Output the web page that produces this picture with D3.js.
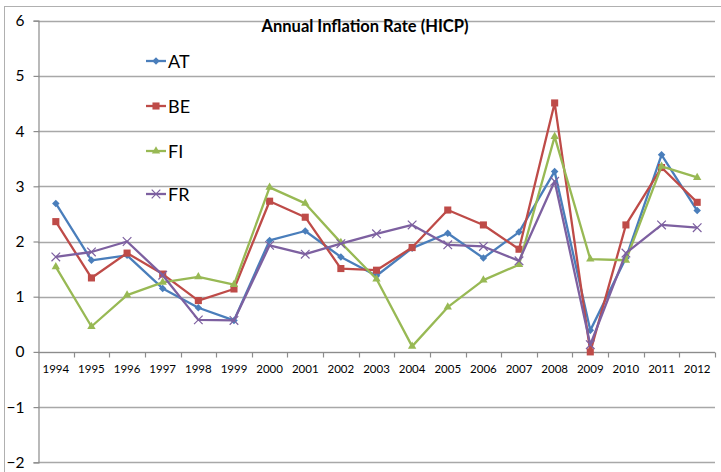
<!DOCTYPE html>
<html>
<head>
<meta charset="utf-8">
<script src="https://cdn.jsdelivr.net/npm/d3@7"></script>
<style>
  html, body { margin: 0; padding: 0; background: #fff; }
  svg { display: block; font-family: Lato, "Open Sans", sans-serif; }
</style>
</head>
<body>
<div id="chart"></div>
<script>
const WIDTH = 721;
const HEIGHT = 472;

const years = ['1994', '1995', '1996', '1997', '1998', '1999', '2000', '2001', '2002', '2003',
  '2004', '2005', '2006', '2007', '2008', '2009', '2010', '2011', '2012'];

const at = [2.69, 1.66, 1.75, 1.15, 0.80, 0.57, 2.02, 2.19, 1.72, 1.38, 1.88, 2.15, 1.70, 2.17, 3.27, 0.39, 1.70, 3.57, 2.56];
const be = [2.36, 1.34, 1.79, 1.41, 0.93, 1.14, 2.73, 2.44, 1.51, 1.48, 1.89, 2.57, 2.30, 1.86, 4.51, 0.00, 2.30, 3.34, 2.71];
const fi = [1.54, 0.46, 1.03, 1.26, 1.36, 1.22, 2.98, 2.69, 1.98, 1.32, 0.10, 0.81, 1.30, 1.58, 3.90, 1.68, 1.66, 3.36, 3.16];
const fr = [1.72, 1.81, 2.00, 1.39, 0.58, 0.57, 1.93, 1.77, 1.96, 2.14, 2.30, 1.94, 1.91, 1.65, 3.09, 0.13, 1.79, 2.30, 2.25];

const yTicks = [-2, -1, 0, 1, 2, 3, 4, 5, 6];

const series = [
  { name: 'AT', values: at, color: '#4a7ebb', symbol: 'diamond' },
  { name: 'BE', values: be, color: '#be4b48', symbol: 'square' },
  { name: 'FI', values: fi, color: '#98b954', symbol: 'triangle' },
  { name: 'FR', values: fr, color: '#7d60a0', symbol: 'cross' }
];

const svg = d3.select('#chart').append('svg')
  .attr('width', WIDTH)
  .attr('height', HEIGHT);

// outer chart frame
svg.append('rect')
  .attr('x', 4.5).attr('y', 6.5)
  .attr('width', WIDTH + 10).attr('height', HEIGHT + 10)
  .attr('fill', 'none')
  .attr('stroke', '#b0b0b0')
  .attr('stroke-width', 1);

const plot = { left: 38, right: 715, top: 20.7, bottom: 462.3 };

const x = d3.scaleBand()
  .domain(years)
  .range([plot.left, plot.right]);

const y = d3.scaleLinear()
  .domain([-2, 6])
  .range([plot.bottom, plot.top]);

// gridlines
svg.append('g')
  .selectAll('line')
  .data(yTicks)
  .enter()
  .append('line')
  .attr('x1', plot.left)
  .attr('x2', plot.right)
  .attr('y1', d => Math.round(y(d)) + 0.5)
  .attr('y2', d => Math.round(y(d)) + 0.5)
  .attr('stroke', '#a8a8a8')
  .attr('stroke-width', 1.3);

// y axis
const yAxis = svg.append('g')
  .attr('transform', `translate(${plot.left + 0.5},0)`)
  .call(d3.axisLeft(y).tickValues(yTicks).tickSize(5).tickPadding(9).tickFormat(d3.format('d')));
yAxis.select('.domain').attr('stroke', '#8c8c8c').attr('stroke-width', 1.2);
yAxis.selectAll('.tick line').attr('stroke', '#8c8c8c').attr('stroke-width', 1.2);
yAxis.selectAll('.tick text')
  .attr('font-size', 15.5)
  .attr('fill', '#000')
  .attr('font-family', 'Lato, "Open Sans", sans-serif');

// x axis at zero
const x0 = Math.round(y(0)) + 0.5;
const xAxisG = svg.append('g');
xAxisG.append('line')
  .attr('x1', plot.left).attr('x2', plot.right)
  .attr('y1', x0).attr('y2', x0)
  .attr('stroke', '#8c8c8c').attr('stroke-width', 1.2);
const boundaries = years.map(yr => x(yr)).concat([plot.right]);
xAxisG.selectAll('line.tk')
  .data(boundaries.slice(1))
  .enter()
  .append('line')
  .attr('class', 'tk')
  .attr('x1', d => Math.round(d) + 0.5).attr('x2', d => Math.round(d) + 0.5)
  .attr('y1', x0).attr('y2', x0 + 5)
  .attr('stroke', '#8c8c8c').attr('stroke-width', 1.2);
xAxisG.selectAll('text')
  .data(years)
  .enter()
  .append('text')
  .attr('x', d => x(d) + x.bandwidth() / 2)
  .attr('y', x0 + 20)
  .attr('text-anchor', 'middle')
  .attr('font-size', 11.5)
  .attr('fill', '#000')
  .text(d => d);

// lines + markers
const symbolType = {
  diamond: d3.symbolDiamond2,
  square: d3.symbolSquare2,
  triangle: d3.symbolTriangle2,
  cross: d3.symbolX
};
const symbolSize = { diamond: 36, square: 64, triangle: 50, cross: 50 };

const line = d3.line()
  .x((d, i) => x(years[i]) + x.bandwidth() / 2)
  .y(d => y(d));

function marker(sel, s) {
  const sym = d3.symbol().type(symbolType[s.symbol]).size(symbolSize[s.symbol]);
  if (s.symbol === 'cross') {
    sel.attr('d', sym).attr('fill', 'none').attr('stroke', s.color).attr('stroke-width', 1.2);
  } else {
    sel.attr('d', sym).attr('fill', s.color).attr('stroke', 'none');
  }
}

series.forEach(s => {
  const g = svg.append('g');
  g.append('path')
    .datum(s.values)
    .attr('d', line)
    .attr('fill', 'none')
    .attr('stroke', s.color)
    .attr('stroke-width', 2.3)
    .attr('stroke-linejoin', 'round');
  g.selectAll('path.m')
    .data(s.values)
    .enter()
    .append('path')
    .attr('class', 'm')
    .attr('transform', (d, i) => `translate(${x(years[i]) + x.bandwidth() / 2},${y(d)})`)
    .call(marker, s);
});

// title
svg.append('text')
  .attr('x', 365)
  .attr('y', 31.5)
  .attr('text-anchor', 'middle')
  .attr('font-size', 16.5)
  .attr('font-weight', 'bold')
  .attr('fill', '#000')
  .text('Annual Inflation Rate (HICP)');

// legend
const legend = svg.append('g');
const legendY = [61, 106, 151, 194];
series.forEach((s, i) => {
  const lg = legend.append('g').attr('transform', `translate(146,${legendY[i]})`);
  lg.append('line')
    .attr('x1', 0).attr('x2', 20)
    .attr('stroke', s.color).attr('stroke-width', 2.3);
  lg.append('path')
    .attr('transform', 'translate(10,0)')
    .call(marker, s);
  lg.append('text')
    .attr('x', 22)
    .attr('y', 6.5)
    .attr('font-size', 18)
    .attr('fill', '#000')
    .text(s.name);
});
</script>
</body>
</html>
